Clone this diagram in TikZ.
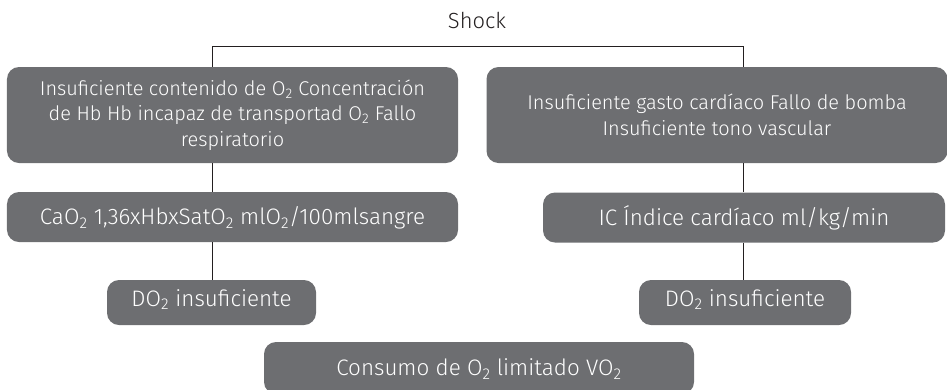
\documentclass[tikz,border=0pt]{standalone}
\usepackage{fontspec}
\setmainfont{Fira Sans Light}
\definecolor{boxgray}{HTML}{6D6E71}
\definecolor{linecol}{HTML}{231F20}
\tikzset{
  gbox/.style={fill=boxgray, rounded corners=12bp, text=white, align=center,
    inner sep=0pt, font=\fontsize{22.5}{26}\selectfont},
  onebox/.style={gbox, text height=15.3bp, text depth=0pt},
  bigbox/.style={gbox, font=\fontsize{20}{25.5}\selectfont},
  conn/.style={draw=linecol, line width=0.9bp}
}
\newcommand{\sub}[1]{\textsubscript{#1}}
\begin{document}
\begin{tikzpicture}[x=1bp,y=-1bp]
\useasboundingbox (0,0) rectangle (947,389);
\node[font=\fontsize{22}{26}\selectfont, text=linecol, inner sep=0pt,
  text height=15bp, text depth=0pt] (shock) at (477,20.5) {Shock};
\coordinate (jl) at (212,46);
\coordinate (jr) at (743,46);
\node[bigbox, minimum width=451bp, minimum height=96bp] (b1) at (232.5,115)
  {Insuficiente contenido de O\sub{2} Concentración\\de Hb Hb incapaz de transportad O\sub{2} Fallo\\respiratorio};
\node[bigbox, minimum width=461bp, minimum height=96bp] (b2) at (717,115)
  {Insuficiente gasto cardíaco Fallo de bomba\\[0.5bp]Insuficiente tono vascular};
\node[onebox, minimum width=451bp, minimum height=50bp] (c1) at (232.5,217)
  {CaO\sub{2} 1,36xHbxSatO\sub{2} mlO\sub{2}/100mlsangre};
\node[onebox, minimum width=402bp, minimum height=50bp] (c2) at (744,217.5)
  {IC Índice cardíaco ml/kg/min};
\node[onebox, text depth=8.3bp, minimum width=209bp, minimum height=45bp] (d1) at (211.5,302.5)
  {DO\sub{2} insuficiente};
\node[onebox, text depth=8.3bp, minimum width=212bp, minimum height=45bp] (d2) at (745,302.5)
  {DO\sub{2} insuficiente};
\node[onebox, minimum width=430bp, minimum height=52bp] (e) at (479,368)
  {Consumo de O\sub{2} limitado VO\sub{2}};
\draw[conn] (b1.north -| jl) -- (jl) -- (jr) -- (b2.north -| jr);
\draw[conn] (b1.south -| jl) -- (c1.north -| jl);
\draw[conn] (c1.south -| jl) -- (d1.north -| jl);
\draw[conn] (b2.south -| jr) -- (c2.north -| jr);
\draw[conn] (c2.south -| jr) -- (d2.north -| jr);
\end{tikzpicture}
\end{document}
